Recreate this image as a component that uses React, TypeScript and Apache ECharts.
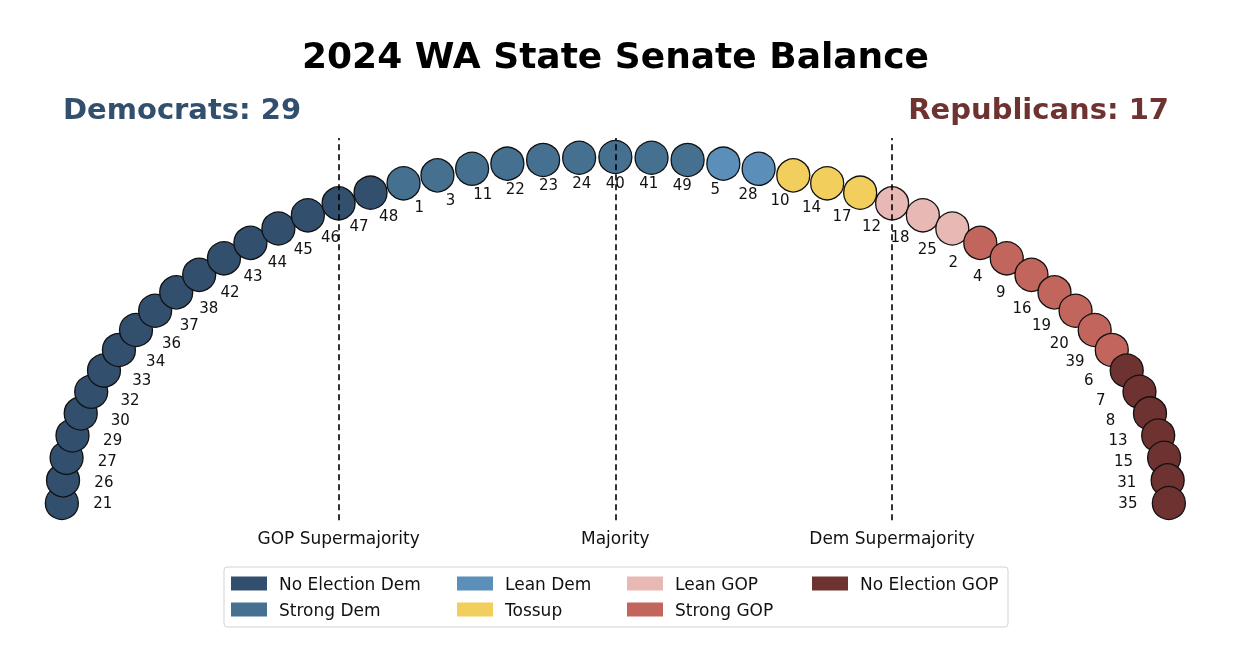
import React, { useEffect, useRef } from "react";
import * as echarts from "echarts";

const categories = [
  "No Election Dem",
  "Strong Dem",
  "Lean Dem",
  "Tossup",
  "Lean GOP",
  "Strong GOP",
  "No Election GOP",
];
const colors = ["#324f6e", "#46708f", "#5b8fb9", "#f2cf5c", "#e8b8b5", "#c2665d", "#6e3330"];

const noElectionDem = [21, 26, 27, 29, 30, 32, 33, 34, 36, 37, 38, 42, 43, 44, 45, 46, 47, 48];
const strongDem = [1, 3, 11, 22, 23, 24, 40, 41, 49];
const leanDem = [5, 28];
const tossup = [10, 14, 17];
const leanGop = [12, 18, 25];
const strongGop = [2, 4, 9, 16, 19, 20, 39];
const noElectionGop = [6, 7, 8, 13, 15, 31, 35];

const groups = [noElectionDem, strongDem, leanDem, tossup, leanGop, strongGop, noElectionGop];

const refLines = [
  { name: "GOP Supermajority", x: -0.5 },
  { name: "Majority", x: 0 },
  { name: "Dem Supermajority", x: 0.5 },
];

const demTotal = 29;
const gopTotal = 17;

export default function App() {
  const ref = useRef<HTMLDivElement>(null);
  useEffect(() => {
    if (!ref.current) return;
    const chart = echarts.init(ref.current, null, { renderer: "svg" });
    const seats: { d: number; c: number }[] = [];
    groups.forEach((g, c) => g.forEach((d) => seats.push({ d, c })));
    const n = seats.length;
    const pos = seats.map((s, i) => {
      const th = Math.PI - (i * Math.PI) / (n - 1);
      return { ...s, x: Math.cos(th), y: Math.sin(th) };
    });
    const labelR = 0.926;
    const font = "DejaVu Sans";

    const series: any[] = categories.map((cat, ci) => ({
      name: cat,
      type: "scatter",
      symbol: "circle",
      symbolSize: 33,
      itemStyle: { color: colors[ci], borderColor: "#111", borderWidth: 1.3, opacity: 1 },
      emphasis: { disabled: true },
      data: pos.filter((p) => p.c === ci).map((p) => [p.x, p.y, p.d]),
      z: 3,
    }));
    series.push({
      name: "labels",
      type: "scatter",
      symbolSize: 0,
      silent: true,
      itemStyle: { opacity: 1 },
      data: pos.map((p) => [p.x * labelR, p.y * labelR, p.d]),
      label: {
        show: true,
        position: "inside",
        formatter: (v: any) => String(v.value[2]),
        fontFamily: font,
        fontSize: 15,
        color: "#111",
      },
      z: 4,
    });
    series.push({
      name: "ref",
      type: "scatter",
      symbolSize: 0,
      silent: true,
      itemStyle: { opacity: 1 },
      data: refLines.map((r) => [r.x, -0.1, r.name]),
      label: {
        show: true,
        position: "inside",
        formatter: (v: any) => String(v.value[2]),
        fontFamily: font,
        fontSize: 17,
        color: "#111",
      },
      markLine: {
        silent: true,
        symbol: "none",
        label: { show: false },
        lineStyle: { color: "#000", type: [6, 4], width: 1.6, opacity: 1 },
        data: refLines.map((r) => [
          { coord: [r.x, -0.05] },
          { coord: [r.x, 1.055] },
        ]),
      },
      z: 2,
    });

    const legendCols = [
      { left: 231, items: [categories[0], categories[1]] },
      { left: 457, items: [categories[2], categories[3]] },
      { left: 627, items: [categories[4], categories[5]] },
      { left: 812, items: [categories[6]] },
    ];

    chart.setOption({
      animation: false,
      title: [
        {
          text: "2024 WA State Senate Balance",
          left: 297,
          top: 32,
          textStyle: { fontFamily: font, fontSize: 36, fontWeight: "bold", color: "#000" },
        },
        {
          text: `Democrats: ${demTotal}`,
          left: 58,
          top: 89,
          textStyle: { fontFamily: font, fontSize: 29, fontWeight: "bold", color: colors[0] },
        },
        {
          text: `Republicans: ${gopTotal}`,
          right: 80,
          top: 89,
          textStyle: { fontFamily: font, fontSize: 29, fontWeight: "bold", color: colors[6] },
        },
      ],
      grid: { left: 6.5, width: 1217.7, top: 122.4, height: 415.2 },
      xAxis: { type: "value", min: -1.1, max: 1.1, show: false },
      yAxis: { type: "value", min: -0.1, max: 1.1, show: false },
      legend: legendCols.map((c) => ({
        orient: "vertical",
        left: c.left,
        top: 575,
        padding: 0,
        itemWidth: 36,
        itemHeight: 14,
        itemGap: 9,
        icon: "rect",
        selectedMode: false,
        itemStyle: { borderWidth: 0, opacity: 1 },
        data: c.items,
        textStyle: { fontFamily: font, fontSize: 17, color: "#111", padding: [0, 0, 0, 7] },
      })),
      graphic: [
        {
          type: "rect",
          shape: { x: 224, y: 567, width: 784, height: 60, r: 3 },
          style: { fill: "none", stroke: "#d4d4d4", lineWidth: 1 },
          silent: true,
          z: -1,
        },
      ],
      series,
    });
    return () => chart.dispose();
  }, []);
  return (
    <div
      ref={ref}
      style={{ position: "fixed", left: 0, top: 0, width: 1254, height: 668 }}
    />
  );
}
